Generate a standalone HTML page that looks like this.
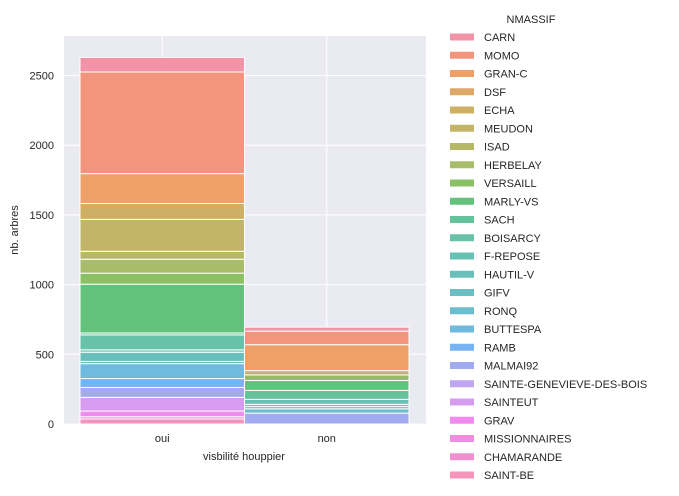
<!DOCTYPE html>
<html><head><meta charset="utf-8"><style>
body{margin:0;background:#fff;}
svg{display:block;font-family:"Liberation Sans","DejaVu Sans",sans-serif;}
</style></head><body>
<svg id="chart" width="679" height="496"></svg>
<script>
const categories = ["oui","non"];
const massifs = ["CARN","MOMO","GRAN-C","DSF","ECHA","MEUDON","ISAD","HERBELAY","VERSAILL","MARLY-VS","SACH","BOISARCY","F-REPOSE","HAUTIL-V","GIFV","RONQ","BUTTESPA","RAMB","MALMAI92","SAINTE-GENEVIEVE-DES-BOIS","SAINTEUT","GRAV","MISSIONNAIRES","CHAMARANDE","SAINT-BE"];
const colors = ["#f393a8","#f3947f","#eea067","#dba86a","#cdb063","#c2b569","#b7b866","#a7bd68","#8cc065","#63c37c","#64c39b","#66c2a9","#68c1b3","#69c0bb","#6bbfc4","#6dbdce","#6fbadf","#77b2f3","#a2aaf0","#bfa6f0","#d69cf0","#f08cf0","#f18de0","#f290cf","#f394bb"];
const valuesOui = [105,729,214,0,114,229,57,100,79,350,14,107,17,66,16,0,107,64,71,0,98,41,16,0,36];
const valuesNon = [29,97,186,0,0,31,0,0,40,71,64,0,36,16,16,31,0,0,78,0,0,0,0,0,0];
const yTicks = [0,500,1000,1500,2000,2500];

const NS="http://www.w3.org/2000/svg";
const svg=document.getElementById('chart');
const P={l:64,r:426,t:36,b:424};
const yScale=v=>P.b - v*0.1394;
const xBand=i=>({x0:80+i*164.5, x1:80+(i+1)*164.5});
const xCenter=i=>(xBand(i).x0+xBand(i).x1)/2;
function mk(tag,attrs,parent){const e=document.createElementNS(NS,tag);for(const k in attrs)e.setAttribute(k,attrs[k]);(parent||svg).appendChild(e);return e;}

const bg=mk('rect',{x:P.l,y:P.t,width:P.r-P.l,height:P.b-P.t,fill:'#eaeaf2'});


yTicks.forEach(t=>{
  const g=mk('line',{x1:P.l,x2:P.r,y1:yScale(t),y2:yScale(t),stroke:'#fff','stroke-width':1});
  
  
  const lb=mk('text',{x:54,y:yScale(t)+4,'text-anchor':'end','font-size':'11',fill:'#262626'});
  lb.textContent=t;
  
  
});
categories.forEach((c,i)=>{
  const g=mk('line',{x1:xCenter(i),x2:xCenter(i),y1:P.t,y2:P.b,stroke:'#fff','stroke-width':1});
  
  
  const lb=mk('text',{x:xCenter(i),y:442,'text-anchor':'middle','font-size':'11',fill:'#262626'});
  lb.textContent=c;
  
  
});
const series=[valuesOui,valuesNon];
series.forEach((vals,i)=>{
  const b=xBand(i);
  let cum=0;
  for(let k=vals.length-1;k>=0;k--){
    const v=vals[k];
    if(v<=0)continue;
    const y1=yScale(cum), y0=yScale(cum+v);
    const r=mk('rect',{x:b.x0,y:y0,width:b.x1-b.x0,height:y1-y0,fill:colors[k],stroke:'#fff','stroke-width':1});
    
    
    cum+=v;
  }
});
const xl=mk('text',{x:244,y:460,'text-anchor':'middle','font-size':'11',fill:'#262626'});
xl.textContent='visbilité houppier';


const yl=mk('text',{x:0,y:0,'text-anchor':'middle','font-size':'11',fill:'#262626',transform:'translate(18,230) rotate(-90)'});
yl.textContent='nb. arbres';


const lt=mk('text',{x:531,y:23,'text-anchor':'middle','font-size':'11',fill:'#262626'});
lt.textContent='NMASSIF';


massifs.forEach((m,k)=>{
  const y=37+k*18.25;
  const sw=mk('rect',{x:450,y:y-3.5,width:24,height:7,fill:colors[k]});
  
  
  const t=mk('text',{x:484,y:y+4,'font-size':'11',fill:'#262626'});
  t.textContent=m;
  
  
});
</script>
</body></html>
